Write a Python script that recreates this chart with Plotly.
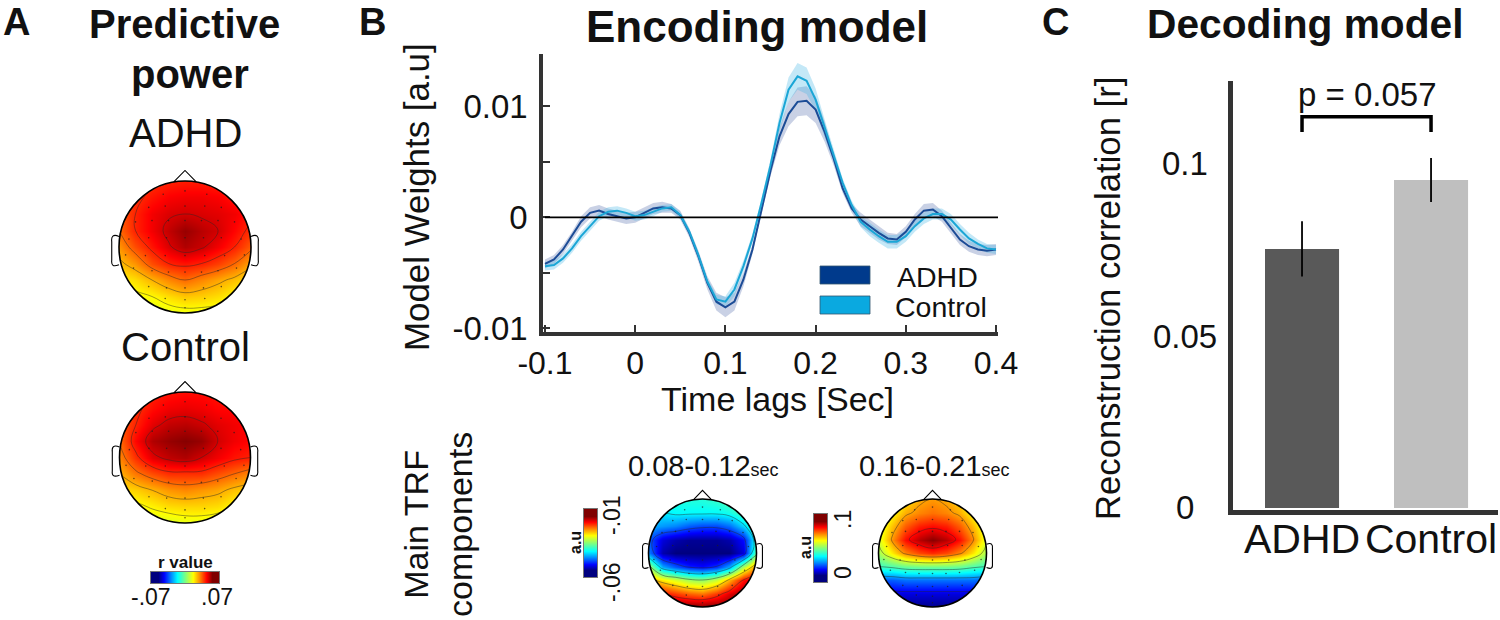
import plotly.graph_objects as go
import math

### INIT ###

W = 1500
H = 620
FONT = "Liberation Sans"
TXT = "#111111"

# time lags for the encoding model, 10 ms steps
lags = [-0.10, -0.09, -0.08, -0.07, -0.06, -0.05, -0.04, -0.03, -0.02, -0.01,
        0.00, 0.01, 0.02, 0.03, 0.04, 0.05, 0.06, 0.07, 0.08, 0.09,
        0.10, 0.11, 0.12, 0.13, 0.14, 0.15, 0.16, 0.17, 0.18, 0.19,
        0.20, 0.21, 0.22, 0.23, 0.24, 0.25, 0.26, 0.27, 0.28, 0.29,
        0.30, 0.31, 0.32, 0.33, 0.34, 0.35, 0.36, 0.37, 0.38, 0.39, 0.40]
adhd_trf = [-.0042, -.0038, -.0029, -.0017, -.0004, .0004, .0006, .0003, .0001, -.0001,
            .0000, .0004, .0008, .0009, .0008, .0002, -.0014, -.0035, -.0059, -.0076,
            -.0081, -.0076, -.0056, -.0029, .0007, .0042, .0073, .0093, .0104, .0105,
            .0097, .0077, .0053, .0026, .0008, -.0002, -.0008, -.0014, -.0019, -.0020,
            -.0013, -.0002, .0006, .0007, .0001, -.0010, -.0020, -.0026, -.0029, -.0030, -.0029]
control_trf = [-.0044, -.0043, -.0037, -.0028, -.0017, -.0008, .0001, .0005, .0006, .0004,
               .0001, .0002, .0005, .0008, .0009, .0002, -.0013, -.0034, -.0058, -.0074,
               -.0076, -.0065, -.0044, -.0019, .0013, .0047, .0085, .0115, .0127, .0123,
               .0106, .0080, .0056, .0031, .0011, -.0004, -.0011, -.0017, -.0022, -.0022,
               -.0017, -.0008, -.0001, .0003, .0003, -.0002, -.0011, -.0019, -.0024, -.0028, -.0029]
adhd_sem = [.0004, .0004, .0004, .0004, .0005, .0005, .0005, .0005, .0005, .0005,
            .0005, .0005, .0005, .0005, .0004, .0004, .0004, .0005, .0006, .0008,
            .0009, .0008, .0006, .0004, .0004, .0005, .0008, .0011, .0013, .0013,
            .0012, .0009, .0006, .0004, .0004, .0006, .0006, .0006, .0005, .0005,
            .0005, .0005, .0006, .0006, .0005, .0005, .0005, .0005, .0005, .0005, .0005]
control_sem = [.0004, .0004, .0004, .0004, .0004, .0004, .0004, .0004, .0004, .0004,
               .0004, .0004, .0004, .0003, .0003, .0003, .0003, .0003, .0003, .0004,
               .0005, .0006, .0005, .0004, .0004, .0005, .0008, .0011, .0012, .0012,
               .0010, .0008, .0006, .0004, .0004, .0005, .0006, .0006, .0006, .0006,
               .0005, .0005, .0005, .0005, .0005, .0005, .0005, .0005, .0004, .0004, .0004]

# decoding model bars
groups = ["ADHD", "Control"]
recon_r = [0.0753, 0.0953]
recon_err = [0.0080, 0.0064]
bar_colors = ["#595959", "#bfbfbf"]

# scalp maps, rows run from the nose (y=1) to the back of the head (y=-1)
grid = [-1, -.75, -.5, -.25, 0, .25, .5, .75, 1]
grid_y = [1, .75, .5, .25, 0, -.25, -.5, -.75, -1]
power_adhd = [
    [.044, .046, .048, .050, .051, .051, .050, .048, .046],
    [.044, .048, .052, .055, .056, .056, .055, .052, .048],
    [.042, .050, .056, .059, .060, .059, .058, .056, .052],
    [.040, .050, .056, .062, .067, .063, .060, .054, .048],
    [.034, .044, .052, .059, .064, .061, .056, .050, .042],
    [.028, .034, .044, .050, .052, .050, .046, .040, .032],
    [.021, .024, .030, .036, .040, .036, .032, .028, .024],
    [.016, .018, .020, .024, .027, .026, .024, .020, .018],
    [.012, .013, .014, .016, .017, .017, .016, .014, .012],
]
power_control = [
    [.042, .046, .050, .052, .053, .053, .052, .050, .048],
    [.042, .048, .053, .056, .057, .056, .054, .054, .053],
    [.042, .050, .058, .062, .063, .061, .058, .056, .054],
    [.040, .054, .064, .067, .069, .067, .060, .056, .054],
    [.036, .048, .058, .062, .064, .060, .056, .052, .050],
    [.030, .038, .044, .048, .048, .048, .044, .040, .036],
    [.024, .026, .030, .034, .036, .034, .032, .028, .026],
    [.018, .018, .021, .024, .025, .025, .024, .020, .018],
    [.012, .013, .014, .014, .016, .016, .014, .014, .012],
]
trf_early = [
    [-.040, -.040, -.040, -.040, -.040, -.039, -.037, -.035, -.032],
    [-.043, -.043, -.042, -.042, -.042, -.042, -.041, -.038, -.034],
    [-.046, -.047, -.048, -.050, -.051, -.051, -.049, -.044, -.038],
    [-.050, -.056, -.058, -.059, -.059, -.059, -.058, -.054, -.040],
    [-.048, -.058, -.060, -.060, -.060, -.060, -.060, -.056, -.036],
    [-.032, -.046, -.050, -.053, -.054, -.052, -.046, -.032, -.022],
    [-.023, -.027, -.030, -.033, -.034, -.031, -.024, -.016, -.013],
    [-.016, -.016, -.018, -.020, -.021, -.018, -.014, -.011, -.010],
    [-.010, -.010, -.010, -.010, -.010, -.010, -.010, -.010, -.010],
]
trf_late = [
    [.056, .060, .066, .072, .074, .072, .068, .062, .056],
    [.056, .064, .072, .076, .078, .076, .072, .064, .058],
    [.060, .070, .080, .086, .088, .086, .080, .070, .060],
    [.060, .075, .088, .095, .099, .095, .088, .075, .060],
    [.054, .066, .076, .082, .085, .082, .076, .066, .054],
    [.042, .044, .047, .048, .048, .048, .047, .044, .042],
    [.020, .020, .022, .022, .022, .022, .022, .022, .020],
    [.008, .008, .008, .008, .008, .008, .008, .008, .008],
    [.001, .001, .001, .001, .001, .001, .001, .001, .001],
]
# electrode positions on the scalp maps
elec_x = [0, -.33, .33, -.55, -.3, 0, .3, .55, -.75, -.5, -.25, 0, .25, .5, .75,
          -.85, -.55, -.28, 0, .28, .55, .85, -.9, -.6, -.3, 0, .3, .6, .9,
          -.78, -.5, -.25, 0, .25, .5, .78, -.55, -.28, 0, .28, .55, -.3, 0, .3, 0]
elec_y = [.85, .8, .8, .6, .62, .62, .62, .6, .38, .4, .4, .4, .4, .4, .38,
          .12, .14, .14, .14, .14, .14, .12, -.12, -.13, -.13, -.13, -.13, -.13, -.12,
          -.32, -.36, -.38, -.38, -.38, -.36, -.32, -.6, -.62, -.62, -.62, -.6, -.78, -.8, -.78, -.92]

# colour ramps
ramp_power = [-.07, -.035, 0, .035, .07]
ramp_early = [-.06, -.0475, -.035, -.0225, -.01]
ramp_late = [0, .025, .05, .075, .1]

jet = [[0, "#00007f"], [0.11, "#0000ff"], [0.36, "#00ffff"], [0.5, "#7fff7f"],
       [0.64, "#ffff00"], [0.89, "#ff0000"], [1, "#7f0000"]]

### FUNCTIONS ###

# pixel box to paper fractions
def dom_x(x0, x1):
    return [x0 / W, x1 / W]

def dom_y(y0, y1):
    return [1 - y1 / H, 1 - y0 / H]

fig = go.Figure()
axis_n = 0
shapes = []
annots = []

def next_axes(box, xopts, yopts):
    global axis_n
    axis_n += 1
    sfx = "" if axis_n == 1 else str(axis_n)
    fig.update_layout({
        "xaxis" + sfx: dict(domain=dom_x(box[0], box[1]), anchor="y" + sfx, **xopts),
        "yaxis" + sfx: dict(domain=dom_y(box[2], box[3]), anchor="x" + sfx, **yopts),
    })
    return "x" + sfx, "y" + sfx

def text(x, y, s, size, bold=False, angle=0, anchor="center"):
    annots.append(dict(x=x / W, y=1 - y / H, xref="paper", yref="paper", text=f"<b>{s}</b>" if bold else s,
                       showarrow=False, font=dict(size=size, family=FONT, color=TXT), textangle=angle,
                       xanchor=anchor, yanchor="middle"))

# * one head: contour map, white mask round the circle, outline, nose and ears
def topo(cx, cy, r, z, zmin, zmax, levels):
    hide = dict(visible=False, fixedrange=True)
    pad = 1.3
    low = 1.1
    xa, ya = next_axes([cx - pad * r, cx + pad * r, cy - pad * r, cy + low * r],
                       dict(range=[-pad, pad], **hide), dict(range=[-low, pad], **hide))
    fig.add_trace(go.Contour(x=grid, y=grid_y, z=z, xaxis=xa, yaxis=ya, colorscale=jet, zmin=zmin, zmax=zmax,
                             showscale=False, hoverinfo="skip",
                             contours=dict(coloring="heatmap", start=levels[0], end=levels[1], size=levels[2]),
                             line=dict(color="rgba(40,40,40,0.65)", width=0.7, smoothing=1.2)))
    fig.add_trace(go.Scatter(x=elec_x, y=elec_y, xaxis=xa, yaxis=ya, mode="markers", hoverinfo="skip",
                             marker=dict(size=1.6, color="rgba(30,30,30,0.7)"), showlegend=False))
    ring = [(math.cos(a * math.pi / 60), math.sin(a * math.pi / 60)) for a in range(121)]
    hole = "M" + " L".join(f"{c:.4f},{s:.4f}" for c, s in ring) + " Z"
    mask = "M-1.1,-1.1 L1.1,-1.1 L1.1,1.1 L-1.1,1.1 Z " + hole
    shapes.append(dict(type="path", path=mask, xref=xa, yref=ya, fillcolor="white", line_width=0, layer="above"))
    shapes.append(dict(type="circle", x0=-1, x1=1, y0=-1, y1=1, xref=xa, yref=ya, line=dict(color="black", width=1.6), layer="above"))
    shapes.append(dict(type="path", path="M-.17,.985 L0,1.16 L.17,.985", xref=xa, yref=ya, line=dict(color="black", width=1.1), layer="above"))
    for s in (-1, 1):
        ear = f"M{s},.16 C{s*1.09},.2 {s*1.12},.16 {s*1.11},.08 L{s*1.11},-.2 C{s*1.12},-.29 {s*1.08},-.3 {s},-.27"
        shapes.append(dict(type="path", path=ear, xref=xa, yref=ya, line=dict(color="black", width=1.1), layer="above"))

# * colour ramp drawn as a small heatmap
def ramp(box, values, horizontal):
    hide = dict(showticklabels=False, ticks="", showgrid=False, zeroline=False, fixedrange=True,
                showline=True, mirror=True, linecolor="rgba(60,60,60,0.7)", linewidth=0.8)
    xa, ya = next_axes(box, hide, hide)
    if horizontal:
        tr = go.Heatmap(x=values, y=[0, 1], z=[values, values])
    else:
        tr = go.Heatmap(x=[0, 1], y=values, z=[[v, v] for v in values])
    tr.update(xaxis=xa, yaxis=ya, colorscale=jet, showscale=False, zsmooth="best", hoverinfo="skip")
    fig.add_trace(tr)

### MAIN ###

# * panel B line chart
xa, ya = next_axes([543, 998, 54, 332],
                   dict(range=[-0.1022, 0.4022], tickvals=[-0.1, 0, 0.1, 0.2, 0.3, 0.4],
                        ticktext=["-0.1", "0", "0.1", "0.2", "0.3", "0.4"], ticks="inside", ticklen=7, tickwidth=1.6,
                        tickcolor="#333333", showline=True, linecolor="#333333", linewidth=3.5, showgrid=False,
                        zeroline=False, tickfont=dict(size=32, family=FONT, color=TXT)),
                   dict(range=[-0.01033, 0.01471], tickvals=[-0.01, -0.005, 0, 0.005, 0.01],
                        ticktext=["-0.01", "", "0", "", "0.01"], ticks="inside", ticklen=7, tickwidth=1.6,
                        tickcolor="#333333", showline=True, linecolor="#333333", linewidth=3.5, showgrid=False,
                        zeroline=False, ticklabelstandoff=5, tickfont=dict(size=33, family=FONT, color=TXT)))
series = [(adhd_trf, adhd_sem, "ADHD", "#1c4c96", "rgba(40,70,150,0.25)"),
          (control_trf, control_sem, "Control", "#1ba6d6", "rgba(60,180,230,0.30)")]
for mean, sem, name, col, band in series:
    upper = [m + s for m, s in zip(mean, sem)]
    lower = [m - s for m, s in zip(mean, sem)]
    fig.add_trace(go.Scatter(x=lags + lags[::-1], y=upper + lower[::-1], xaxis=xa, yaxis=ya, fill="toself",
                             fillcolor=band, line_width=0, mode="lines", showlegend=False, hoverinfo="skip"))
for mean, sem, name, col, band in series:
    fig.add_trace(go.Scatter(x=lags, y=mean, name=name, xaxis=xa, yaxis=ya, mode="lines", line=dict(color=col, width=2), showlegend=False))
shapes.append(dict(type="line", x0=-0.1, x1=0.4022, y0=0, y1=0, xref=xa, yref=ya, line=dict(color="black", width=1.8)))

# legend swatches
for y0, y1, col in [(266, 284, "#003a8c"), (296, 314, "#0aa9e0")]:
    shapes.append(dict(type="rect", x0=820 / W, x1=870 / W, y0=1 - y1 / H, y1=1 - y0 / H, xref="paper", yref="paper",
                       fillcolor=col, line=dict(color="#33566e", width=0.8)))
text(895, 277, "ADHD", 28.5, anchor="left")
text(893, 307, "Control", 28.5, anchor="left")

# * panel C bars
xa, ya = next_axes([1233, 1498, 81, 510],
                   dict(range=[-0.535, 1.519], tickvals=[0, 1], ticktext=groups, showline=True, linecolor="#333333",
                        linewidth=5, ticks="", showgrid=False, zeroline=False, ticklabelstandoff=-11,
                        tickfont=dict(size=41, family=FONT, color=TXT)),
                   dict(range=[-0.0006, 0.1241], showticklabels=False, showline=True,
                        linecolor="#333333", linewidth=5, ticks="", showgrid=False, zeroline=False))
fig.add_trace(go.Bar(x=[0, 1], y=recon_r, xaxis=xa, yaxis=ya, width=0.574, marker=dict(color=bar_colors, line_width=0),
                     error_y=dict(type="data", array=recon_err, color="black", thickness=1.8, width=0), showlegend=False))
shapes.append(dict(type="path", path="M0,0.1093 L0,0.1137 L1,0.1137 L1,0.1093", xref=xa, yref=ya, line=dict(color="black", width=3.5)))
text(1367, 95, "p = 0.057", 33)
# these labels are centred on each other in the figure, axis ticks would right align them
text(1185, 507, "0", 33)
text(1185, 336, "0.05", 33)
text(1185, 163, "0.1", 33)

# * scalp maps
topo(185, 247, 66, power_adhd, -.07, .07, (.01, .07, .01))
topo(185, 457.5, 65.5, power_control, -.07, .07, (.01, .07, .01))
topo(702.5, 553, 54, trf_early, -.06, -.01, (-.052, -.01, .009))
topo(932.5, 553, 54, trf_late, 0, .1, (.01, .1, .016))

ramp([151, 219, 572, 583], ramp_power, True)
ramp([584, 597, 509, 577], ramp_early, False)
ramp([814, 827, 514, 582], ramp_late, False)

# * text
text(16, 22, "A", 38, bold=True)
text(372, 22, "B", 38, bold=True)
text(1055, 22, "C", 38, bold=True)
text(184, 24, "Predictive", 40, bold=True)
text(190, 74, "power", 40, bold=True)
text(185, 133, "ADHD", 40)
text(185, 347, "Control", 40)
text(757, 26, "Encoding model", 44, bold=True)
text(1305, 24, "Decoding model", 40.7, bold=True)
text(416, 197, "Model Weights [a.u]", 34.9, angle=-90)
text(777, 399, "Time lags [Sec]", 34)
text(1108, 299, "Reconstruction correlation [r]", 34.7, angle=-90)
text(438, 525, "Main TRF<br>components", 34, angle=-90)
text(703, 466, "0.08-0.12<span style='font-size:18px'>sec</span>", 29)
text(935, 466, "0.16-0.21<span style='font-size:18px'>sec</span>", 29)
text(185, 562, "r value", 17, bold=True)
text(151, 597, "-.07", 23)
text(217, 597, ".07", 23)
text(575, 543, "a.u", 16, bold=True, angle=-90)
text(612, 515, "-.01", 23, angle=-90)
text(612, 582, "-.06", 23, angle=-90)
text(805, 547, "a.u", 16, bold=True, angle=-90)
text(843, 520, ".1", 23, angle=-90)
text(843, 573, "0", 23, angle=-90)

fig.update_layout(width=W, height=H, margin=dict(l=0, r=0, t=0, b=0, autoexpand=False), paper_bgcolor="white", plot_bgcolor="white",
                  font=dict(family=FONT, color=TXT), showlegend=False, shapes=shapes, annotations=annots)

# page body has a default margin, drop it so pixels line up
fig.write_html("out.html", config=dict(displayModeBar=False), post_script="document.body.style.margin='0';")
